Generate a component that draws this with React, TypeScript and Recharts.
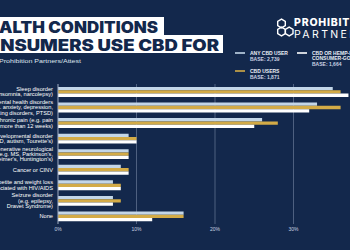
import { BarChart, Bar, XAxis, YAxis, CartesianGrid, Legend } from "recharts";

const NAVY = "#13284c";

const categories = [
  "sleep",
  "mental",
  "chronic",
  "neurodev",
  "neurodegen",
  "cancer",
  "appetite",
  "seizure",
  "none",
];

const categoryLines: string[][] = [
  ["Sleep disorder", "(e.g. insomnia, narcolepsy)"],
  ["Mental health disorders", "(e.g. anxiety, depression,", "eating disorders, PTSD)"],
  ["Chronic pain (e.g. pain", "lasting more than 12 weeks)"],
  ["Neurodevelopmental disorder", "(e.g. ADHD, autism, Tourette's)"],
  ["Degenerative neurological", "disorders (e.g. MS, Parkinson's,", "Alzheimer's, Huntington's)"],
  ["Cancer or CINV"],
  ["Appetite and weight loss", "associated with HIV/AIDS"],
  ["Seizure disorder", "(e.g. epilepsy,", "Dravet Syndrome)"],
  ["None"],
];

const anyCbdUser = [35, 33, 26, 9, 9, 8, 7, 7, 16];
const cbdUsers = [36, 36, 28, 10, 9, 9, 8, 8, 16];
const hempGoodsUsers = [37, 32, 25, 10, 9, 9, 8, 7, 12];

const xTicks = [0, 10, 20, 30];

const series = [
  { key: "any", color: "#c3d6e8", name: "ANY CBD USER", base: "BASE: 2,739" },
  { key: "cbd", color: "#d3ab47", name: "CBD USERS", base: "BASE: 1,871" },
  { key: "hemp", color: "#ffffff", name: "CBD OR HEMP-INFUSED|CONSUMER-GOODS USERS", base: "BASE: 1,664" },
];

const data = categories.map((c, i) => ({
  category: c,
  any: anyCbdUser[i],
  cbd: cbdUsers[i],
  hemp: hempGoodsUsers[i],
}));

const FONT = "'Liberation Sans', Arial, sans-serif";

const CategoryTick = (props: any) => {
  const { x, y, payload } = props;
  const idx = categories.indexOf(payload.value);
  const lines = categoryLines[idx] || [];
  const lh = 5.4;
  const start = y - ((lines.length - 1) * lh) / 2;
  return (
    <text
      x={x}
      y={start}
      textAnchor="end"
      fill="#ffffff"
      fontSize={5.7}
      fontFamily={FONT}
      dominantBaseline="central"
    >
      {lines.map((l, i) => (
        <tspan key={i} x={x} y={start + i * lh}>
          {l}
        </tspan>
      ))}
    </text>
  );
};

// legend laid out as three blocks next to the logo
const legendSpots = [
  { x: 235, y: 53 },
  { x: 235, y: 71 },
  { x: 297, y: 53 },
];

const LegendBlock = () => (
  <svg width={350} height={90} style={{ position: "absolute", left: 0, top: 0 }}>
    {series.map((s, i) => {
      const p = legendSpots[i];
      const lines = s.name.split("|");
      const top = p.y - (lines.length > 1 ? 0.5 : 0);
      return (
        <g key={s.key} fontFamily={FONT} fontWeight={700} fontSize={5}>
          <line x1={p.x} x2={p.x + 10} y1={p.y} y2={p.y} stroke={s.color} strokeWidth={1.6} />
          {lines.map((l, j) => (
            <text key={j} x={p.x + 15} y={top + j * 5.8} fill="#e8edf5" dominantBaseline="central">
              {l}
            </text>
          ))}
          <text x={p.x + 15} y={top + lines.length * 5.8} fill="#c9d2e2" dominantBaseline="central">
            {s.base}
          </text>
        </g>
      );
    })}
  </svg>
);

const hex = (cx: number, cy: number, r: number) =>
  [0, 1, 2, 3, 4, 5]
    .map((k) => {
      const a = (Math.PI / 3) * k + Math.PI / 6;
      return `${cx + r * Math.cos(a)},${cy + r * Math.sin(a)}`;
    })
    .join(" ");

const Header = () => (
  <svg width={350} height={80} style={{ position: "absolute", left: 0, top: 0 }}>
    <rect x={0} y={17} width={164} height={19} fill="#ffffff" />
    <rect x={0} y={35} width={223} height={18} fill="#ffffff" />
    <text
      x={-24}
      y={33}
      textLength={182}
      lengthAdjust="spacingAndGlyphs"
      fill={NAVY}
      fontFamily="Inter, sans-serif"
      fontWeight={900}
      fontSize={15.5}
    >
      HEALTH CONDITIONS
    </text>
    <text
      x={-28}
      y={50.5}
      textLength={247}
      lengthAdjust="spacingAndGlyphs"
      fill={NAVY}
      fontFamily="Inter, sans-serif"
      fontWeight={900}
      fontSize={15.5}
    >
      CONSUMERS USE CBD FOR
    </text>
    <text
      x={-1}
      y={63}
      textLength={82}
      lengthAdjust="spacingAndGlyphs"
      fill="#dfe5ef"
      fontFamily={FONT}
      fontSize={6.2}
    >
      Prohibition Partners/Attest
    </text>
    <g fill="none" stroke="#ffffff" strokeWidth={1.4}>
      <polygon points={hex(281.5, 23.5, 4.4)} />
      <polygon points={hex(281.5, 31.5, 4.4)} />
      <polygon points={hex(289.2, 31.5, 4.4)} />
    </g>
    <text x={294} y={26} fill="#ffffff" fontFamily="Inter, sans-serif" fontWeight={800} fontSize={10.5} letterSpacing={0.8}>
      PROHIBITION
    </text>
    <text x={294} y={37.5} fill="#ffffff" fontFamily="Inter, sans-serif" fontWeight={400} fontSize={10.5} letterSpacing={2.4}>
      PARTNERS
    </text>
  </svg>
);

export default function App() {
  return (
    <div
      style={{
        position: "fixed",
        left: 0,
        top: 0,
        width: 350,
        height: 250,
        overflow: "hidden",
        background: NAVY,
      }}
    >
      <div style={{ position: "absolute", left: 0, top: 0 }}>
        <BarChart
          width={372}
          height={250}
          data={data}
          layout="vertical"
          margin={{ top: 84, right: 0, left: 0, bottom: 6 }}
          barSize={3.3}
          barGap={0}
        >
          <CartesianGrid horizontal={false} vertical stroke="#5e6e8e" strokeWidth={0.8} />
          <XAxis
            type="number"
            domain={[0, 40]}
            ticks={xTicks}
            tickFormatter={(v) => `${v}%`}
            axisLine={false}
            tickLine={false}
            tickSize={0}
            tickMargin={3}
            height={20}
            tick={{ fill: "#c9d2e2", fontSize: 5, fontFamily: FONT }}
          />
          <YAxis
            type="category"
            dataKey="category"
            width={58}
            axisLine={{ stroke: "#9aa6bd", strokeWidth: 0.8 }}
            tickLine={false}
            tickSize={0}
            tickMargin={5}
            interval={0}
            tick={<CategoryTick />}
          />
          <Legend content={() => null} />
          {series.map((s) => (
            <Bar key={s.key} dataKey={s.key} fill={s.color} isAnimationActive={false} />
          ))}
        </BarChart>
      </div>
      <Header />
      <LegendBlock />
    </div>
  );
}
